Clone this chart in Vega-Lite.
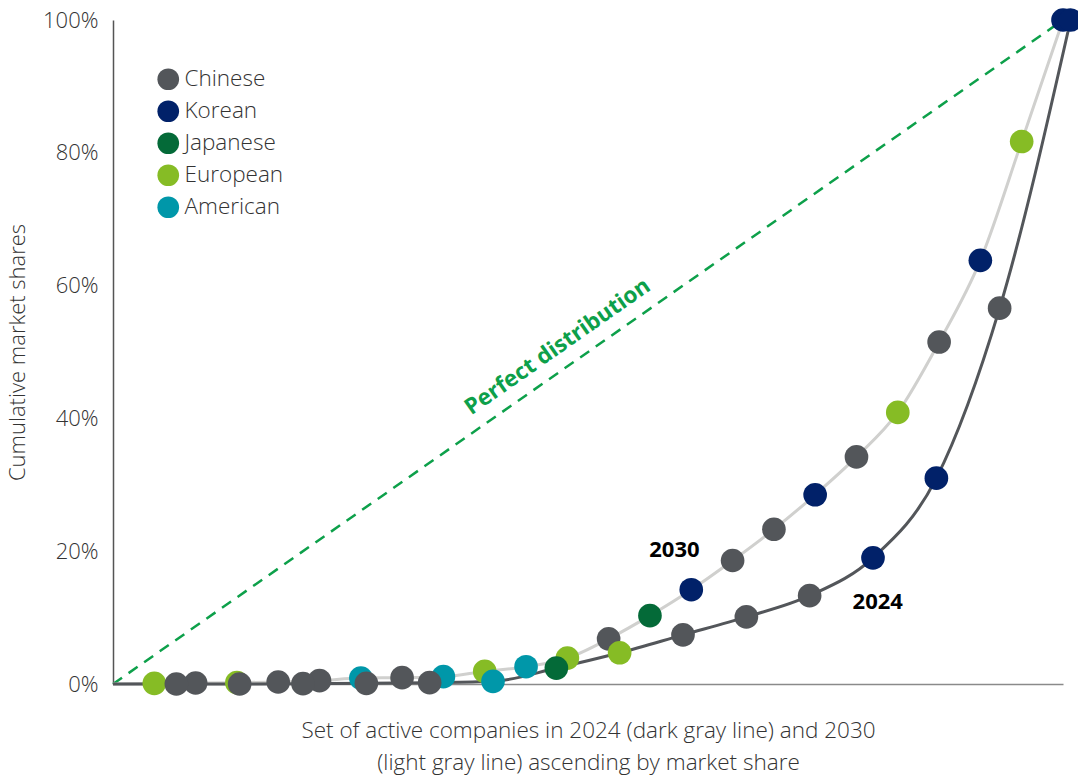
{
  "$schema": "https://vega.github.io/schema/vega-lite/v6.json",
  "width": 950,
  "height": 664,
  "autosize": {"type": "none"},
  "padding": {"left": 113, "top": 20, "right": 15, "bottom": 91},
  "background": "white",
  "config": {
    "view": {"stroke": null},
    "font": "Open Sans",
    "axis": {"grid": false, "labelFont": "Open Sans", "titleFont": "Open Sans", "titleFontWeight": 300, "labelFontWeight": 300}
  },
  "datasets": {
    "curves": [
      {"year": "2030", "pos": 0, "share": 0, "nation": null},
      {"year": "2030", "pos": 4.35, "share": 0.1, "nation": "European"},
      {"year": "2030", "pos": 8.7, "share": 0.15, "nation": "Chinese"},
      {"year": "2030", "pos": 13.04, "share": 0.2, "nation": "European"},
      {"year": "2030", "pos": 17.39, "share": 0.3, "nation": "Chinese"},
      {"year": "2030", "pos": 21.74, "share": 0.5, "nation": "Chinese"},
      {"year": "2030", "pos": 26.09, "share": 0.9, "nation": "American"},
      {"year": "2030", "pos": 30.43, "share": 0.95, "nation": "Chinese"},
      {"year": "2030", "pos": 34.78, "share": 1.1, "nation": "American"},
      {"year": "2030", "pos": 39.13, "share": 1.9, "nation": "European"},
      {"year": "2030", "pos": 43.48, "share": 2.6, "nation": "American"},
      {"year": "2030", "pos": 47.83, "share": 3.9, "nation": "European"},
      {"year": "2030", "pos": 52.17, "share": 6.8, "nation": "Chinese"},
      {"year": "2030", "pos": 56.52, "share": 10.3, "nation": "Japanese"},
      {"year": "2030", "pos": 60.87, "share": 14.2, "nation": "Korean"},
      {"year": "2030", "pos": 65.22, "share": 18.6, "nation": "Chinese"},
      {"year": "2030", "pos": 69.57, "share": 23.3, "nation": "Chinese"},
      {"year": "2030", "pos": 73.91, "share": 28.5, "nation": "Korean"},
      {"year": "2030", "pos": 78.26, "share": 34.2, "nation": "Chinese"},
      {"year": "2030", "pos": 82.61, "share": 40.9, "nation": "European"},
      {"year": "2030", "pos": 86.96, "share": 51.5, "nation": "Chinese"},
      {"year": "2030", "pos": 91.3, "share": 63.8, "nation": "Korean"},
      {"year": "2030", "pos": 95.65, "share": 81.7, "nation": "European"},
      {"year": "2030", "pos": 100, "share": 100, "nation": "Korean"},
      {"year": "2024", "pos": 0, "share": 0, "nation": null},
      {"year": "2024", "pos": 6.67, "share": 0, "nation": "Chinese"},
      {"year": "2024", "pos": 13.33, "share": 0, "nation": "Chinese"},
      {"year": "2024", "pos": 20, "share": 0.05, "nation": "Chinese"},
      {"year": "2024", "pos": 26.67, "share": 0.1, "nation": "Chinese"},
      {"year": "2024", "pos": 33.33, "share": 0.2, "nation": "Chinese"},
      {"year": "2024", "pos": 40, "share": 0.4, "nation": "American"},
      {"year": "2024", "pos": 46.67, "share": 2.4, "nation": "Japanese"},
      {"year": "2024", "pos": 53.33, "share": 4.7, "nation": "European"},
      {"year": "2024", "pos": 60, "share": 7.4, "nation": "Chinese"},
      {"year": "2024", "pos": 66.67, "share": 10.1, "nation": "Chinese"},
      {"year": "2024", "pos": 73.33, "share": 13.3, "nation": "Chinese"},
      {"year": "2024", "pos": 80, "share": 19.0, "nation": "Korean"},
      {"year": "2024", "pos": 86.67, "share": 31.0, "nation": "Korean"},
      {"year": "2024", "pos": 93.33, "share": 56.6, "nation": "Chinese"},
      {"year": "2024", "pos": 100.8, "share": 100, "nation": "Korean"}
    ],
    "diag": [
      {"pos": 0, "share": 0},
      {"pos": 100, "share": 100}
    ],
    "labels": [
      {"pos": 46.8, "share": 50.8, "text": "Perfect distribution", "kind": "diag"},
      {"pos": 59.1, "share": 20.2, "text": "2030", "kind": "year"},
      {"pos": 80.5, "share": 12.3, "text": "2024", "kind": "year"}
    ]
  },
  "encoding": {
    "x": {
      "field": "pos", "type": "quantitative",
      "scale": {"domain": [0, 100], "nice": false, "zero": true},
      "axis": {
        "labels": false, "ticks": false, "domainColor": "#8a8a8a", "domainWidth": 1.5,
        "title": ["Set of active companies in 2024 (dark gray line) and 2030", "(light gray line) ascending by market share"],
        "titleFontSize": 22.5, "titleColor": "#333333", "titleLineHeight": 32, "titlePadding": 35
      }
    },
    "y": {
      "field": "share", "type": "quantitative",
      "scale": {"domain": [0, 100], "nice": false},
      "axis": {
        "values": [0, 20, 40, 60, 80, 100],
        "labelExpr": "datum.value + '%'",
        "ticks": false, "domainColor": "#555555", "domainWidth": 1.5,
        "labelFontSize": 22, "labelColor": "#333333", "labelPadding": 15,
        "title": "Cumulative market shares", "titleFontSize": 22, "titleColor": "#333333", "titlePadding": 13
      }
    }
  },
  "layer": [
    {
      "data": {"name": "diag"},
      "mark": {"type": "line", "color": "#0DA04A", "strokeWidth": 2.5, "strokeDash": [11, 8]}
    },
    {
      "data": {"name": "curves"},
      "transform": [{"filter": "datum.year == '2030'"}],
      "mark": {"type": "line", "color": "#D0D0CE", "strokeWidth": 3, "interpolate": "monotone"}
    },
    {
      "data": {"name": "curves"},
      "transform": [{"filter": "datum.year == '2024'"}],
      "mark": {"type": "line", "color": "#53565A", "strokeWidth": 3, "interpolate": "monotone"}
    },
    {
      "data": {"name": "curves"},
      "transform": [{"filter": "datum.nation != null"}],
      "mark": {"type": "point", "shape": "circle", "filled": true, "size": 560, "opacity": 1},
      "encoding": {
        "fill": {
          "field": "nation", "type": "nominal",
          "scale": {
            "domain": ["Chinese", "Korean", "Japanese", "European", "American"],
            "range": ["#53565A", "#012169", "#046A38", "#86BC25", "#0097A9"]
          },
          "legend": {
            "title": null, "orient": "none", "legendX": 44, "legendY": 48,
            "symbolType": "circle", "symbolSize": 470, "symbolStrokeWidth": 0,
            "labelFontSize": 22.5, "labelFontWeight": 300, "labelColor": "#333333", "labelFont": "Open Sans",
            "rowPadding": 9, "labelOffset": 5, "padding": 0
          }
        }
      }
    },
    {
      "data": {"name": "labels"},
      "transform": [{"filter": "datum.kind == 'diag'"}],
      "mark": {"type": "text", "angle": 325, "fontSize": 22.5, "fontWeight": "bold", "color": "#0DA04A", "align": "center", "baseline": "middle"},
      "encoding": {"text": {"field": "text"}}
    },
    {
      "data": {"name": "labels"},
      "transform": [{"filter": "datum.kind == 'year'"}],
      "mark": {"type": "text", "fontSize": 22, "fontWeight": "bold", "color": "#000000", "align": "center", "baseline": "middle"},
      "encoding": {"text": {"field": "text"}}
    }
  ]
}
